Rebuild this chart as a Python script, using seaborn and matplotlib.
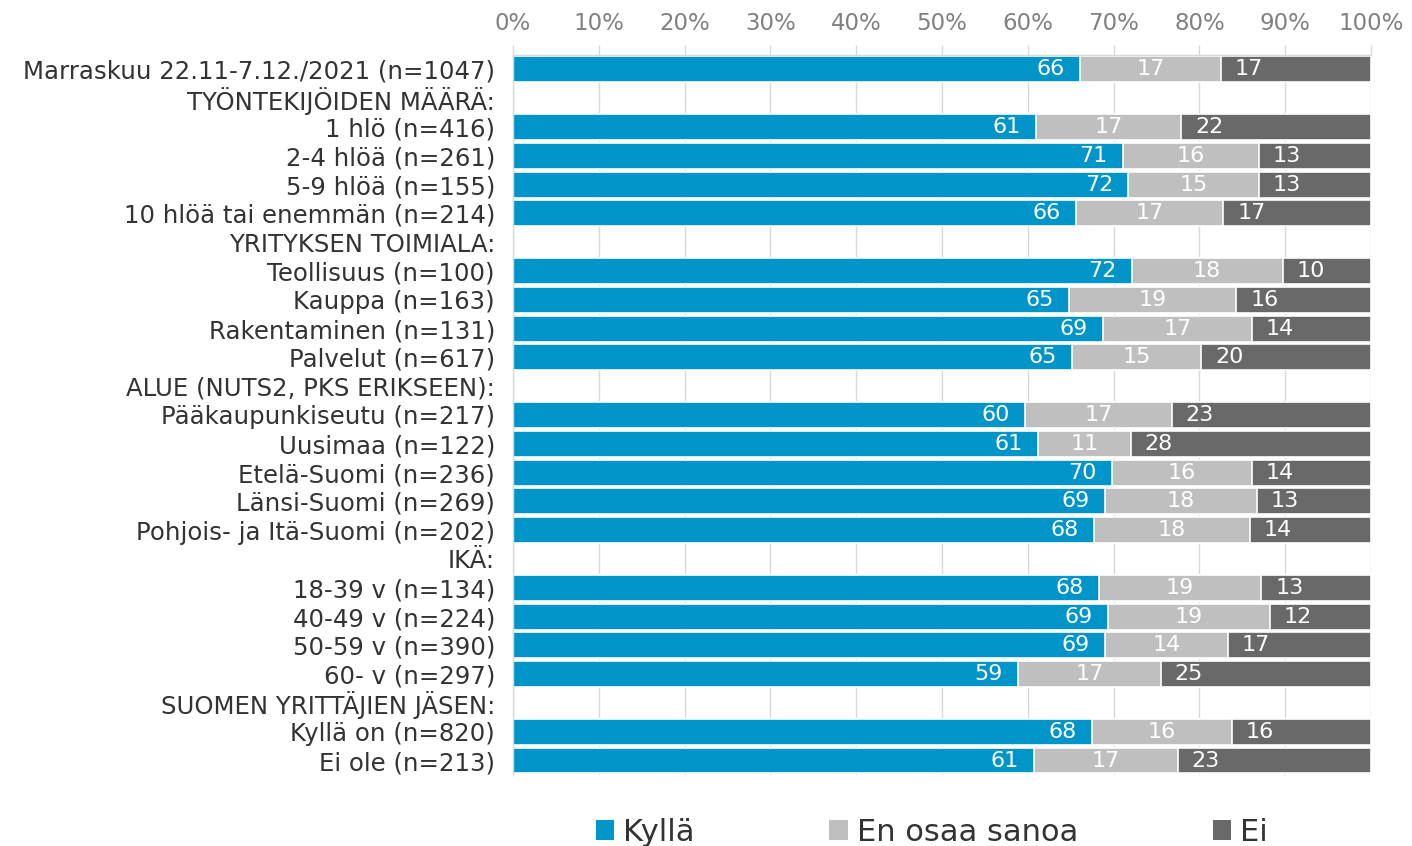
import numpy as np
import pandas as pd
import matplotlib
matplotlib.use("Agg")
import matplotlib.pyplot as plt
from matplotlib.patches import Patch
import seaborn as sns

nan = np.nan
categories = [
    "Marraskuu 22.11-7.12./2021 (n=1047)",
    "TYÖNTEKIJÖIDEN MÄÄRÄ:",
    "1 hlö (n=416)",
    "2-4 hlöä (n=261)",
    "5-9 hlöä (n=155)",
    "10 hlöä tai enemmän (n=214)",
    "YRITYKSEN TOIMIALA:",
    "Teollisuus (n=100)",
    "Kauppa (n=163)",
    "Rakentaminen (n=131)",
    "Palvelut (n=617)",
    "ALUE (NUTS2, PKS ERIKSEEN):",
    "Pääkaupunkiseutu (n=217)",
    "Uusimaa (n=122)",
    "Etelä-Suomi (n=236)",
    "Länsi-Suomi (n=269)",
    "Pohjois- ja Itä-Suomi (n=202)",
    "IKÄ:",
    "18-39 v (n=134)",
    "40-49 v (n=224)",
    "50-59 v (n=390)",
    "60- v (n=297)",
    "SUOMEN YRITTÄJIEN JÄSEN:",
    "Kyllä on (n=820)",
    "Ei ole (n=213)",
]
kylla = [66.1, nan, 61.0, 71.1, 71.7, 65.6, nan, 72.1, 64.8, 68.8, 65.2, nan,
         59.7, 61.2, 69.8, 69.0, 67.7, nan, 68.3, 69.3, 69.0, 58.9, nan, 67.5, 60.7]
eos = [16.4, nan, 16.9, 15.8, 15.2, 17.2, nan, 17.6, 19.5, 17.3, 15.0, nan,
       17.1, 10.8, 16.3, 17.7, 18.2, nan, 18.9, 18.9, 14.3, 16.6, nan, 16.3, 16.8]
ei = [17.5, nan, 22.1, 13.1, 13.1, 17.2, nan, 10.3, 15.7, 13.9, 19.8, nan,
      23.2, 28.0, 13.9, 13.3, 14.1, nan, 12.8, 11.8, 16.7, 24.5, nan, 16.2, 22.5]
kylla_lbl = [66, None, 61, 71, 72, 66, None, 72, 65, 69, 65, None,
             60, 61, 70, 69, 68, None, 68, 69, 69, 59, None, 68, 61]
eos_lbl = [17, None, 17, 16, 15, 17, None, 18, 19, 17, 15, None,
           17, 11, 16, 18, 18, None, 19, 19, 14, 17, None, 16, 17]
ei_lbl = [17, None, 22, 13, 13, 17, None, 10, 16, 14, 20, None,
          23, 28, 14, 13, 14, None, 13, 12, 17, 25, None, 16, 23]
series_names = ["Kyllä", "En osaa sanoa", "Ei"]
x_ticks = [0, 10, 20, 30, 40, 50, 60, 70, 80, 90, 100]

c_kylla = "#0095C8"
c_eos = "#BFBFBF"
c_ei = "#696969"

sns.set_theme(style="white")
plt.rcParams["font.family"] = ["DejaVu Sans"]

df = pd.DataFrame({"cat": categories, "k": kylla, "e": eos, "n": ei})
df["c2"] = df["k"] + df["e"]
df["c3"] = df["k"] + df["e"] + df["n"]

fig = plt.figure(figsize=(14.12, 8.46), dpi=100)
ax = fig.add_axes([0.3633, 0.084, 0.971 - 0.3633, 0.935 - 0.084])

common = dict(y="cat", order=categories, orient="h", width=0.9,
              edgecolor="white", linewidth=1.2, errorbar=None, ax=ax)
sns.barplot(data=df, x="c3", color=c_ei, saturation=1, **common)
sns.barplot(data=df, x="c2", color=c_eos, saturation=1, **common)
sns.barplot(data=df, x="k", color=c_kylla, saturation=1, **common)

# value labels
for i in range(len(categories)):
    if kylla_lbl[i] is None:
        continue
    k, e = df["k"][i], df["e"][i]
    ax.annotate(str(kylla_lbl[i]), xy=(k, i), xytext=(-11, 0), textcoords="offset points",
                ha="right", va="center", color="white", fontsize=16)
    ax.annotate(str(eos_lbl[i]), xy=(k + e / 2, i), ha="center", va="center",
                color="white", fontsize=16)
    ax.annotate(str(ei_lbl[i]), xy=(k + e, i), xytext=(10, 0), textcoords="offset points",
                ha="left", va="center", color="white", fontsize=16)

ax.set_xlim(0, 100)
ax.set_ylim(len(categories) - 0.5, -0.5)
ax.set_xticks(x_ticks)
ax.set_xticklabels([f"{t}%" for t in x_ticks])
ax.xaxis.tick_top()
ax.tick_params(axis="x", which="both", top=True, bottom=False, length=7, width=1,
               color="#D9D9D9", labelcolor="#808080", labelsize=16.5, pad=7.5)
ax.tick_params(axis="y", length=0, labelsize=17.6, labelcolor="#333333", pad=13)
ax.set_xlabel("")
ax.set_ylabel("")
ax.xaxis.grid(True, color="#D9D9D9", linewidth=1)
ax.yaxis.grid(False)
ax.set_axisbelow(True)
for s in ["right", "bottom"]:
    ax.spines[s].set_visible(False)
for s in ["top", "left"]:
    ax.spines[s].set_visible(True)
    ax.spines[s].set_color("#D9D9D9")
    ax.spines[s].set_linewidth(1)

handles = [Patch(facecolor=c, edgecolor="none") for c in (c_kylla, c_eos, c_ei)]
fig.legend(handles, series_names, loc="center", bbox_to_anchor=(0.66, 0.016), ncol=3,
           frameon=False, fontsize=22, handlelength=0.6, handleheight=0.6,
           handletextpad=0.3, columnspacing=4.4, labelcolor="#333333")

fig.savefig("out.png", dpi=100)
